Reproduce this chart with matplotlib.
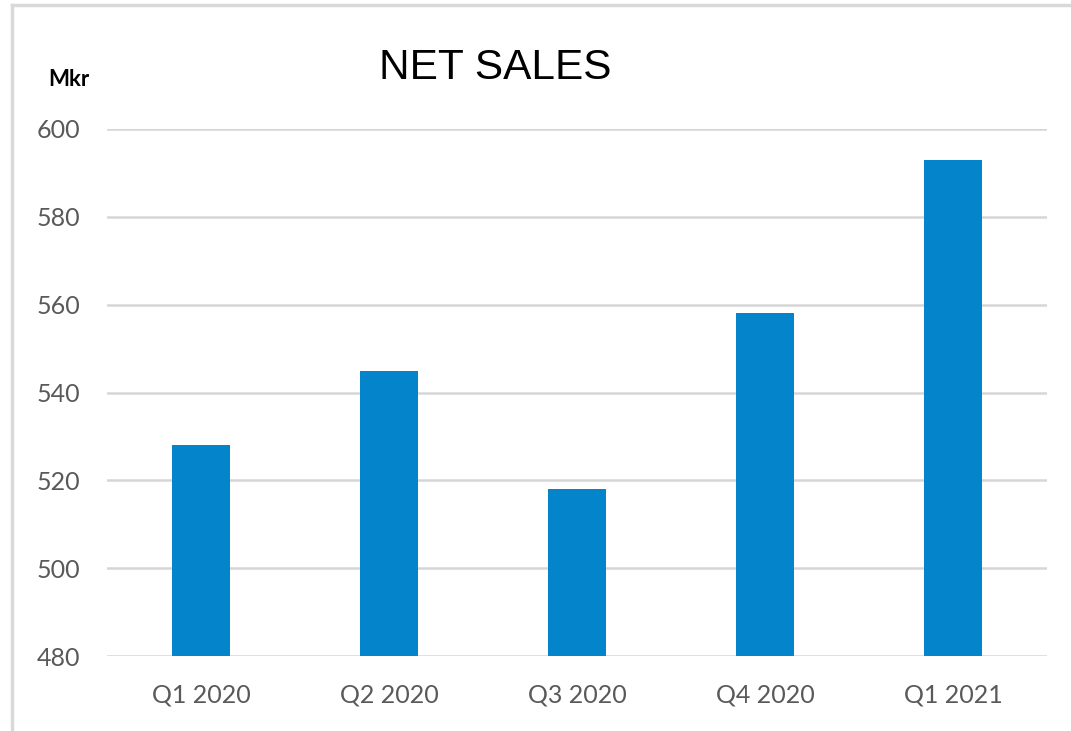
import matplotlib.pyplot as plt
from matplotlib.lines import Line2D

quarters = ['Q1 2020', 'Q2 2020', 'Q3 2020', 'Q4 2020', 'Q1 2021']
net_sales = [528, 545, 518, 558, 593]
yticks = [480, 500, 520, 540, 560, 580, 600]

fig = plt.figure(figsize=(10.71, 7.31), dpi=100)
ax = fig.add_axes([107/1071, 1 - 656/731, 940/1071, 527/731])

x = range(len(quarters))
ax.bar(x, [v - 480 for v in net_sales], bottom=480, width=0.31, color='#0484cb', zorder=3)

ax.set_xlim(-0.5, len(quarters) - 0.5)
ax.set_ylim(480, 600)
ax.set_yticks(yticks)
ax.set_xticks(list(x))
ax.set_xticklabels(quarters)
ax.grid(axis='y', color='#d6d6d6', linewidth=1.8, zorder=0)
for s in ax.spines.values():
    s.set_visible(False)
ax.tick_params(length=0, labelsize=18, labelcolor='#595959')
ax.tick_params(axis='y', pad=19)
ax.tick_params(axis='x', pad=20)
for lab in ax.get_xticklabels() + ax.get_yticklabels():
    lab.set_family('Lato')

fig.text(495/1071, 1 - 68/731, 'NET SALES', ha='center', va='center',
         fontsize=30.5, family='Liberation Sans')
fig.text(48/1071, 1 - 80/731, 'Mkr', ha='left', va='center',
         fontsize=16, fontweight='bold', family='Lato')

# thin frame of the original screenshot (left and top edges)
fig.add_artist(Line2D([12/1071, 12/1071], [0, 1 - 5/731], transform=fig.transFigure,
                      color='#d9d9d9', linewidth=2.5))
fig.add_artist(Line2D([12/1071, 1], [1 - 5/731, 1 - 5/731], transform=fig.transFigure,
                      color='#d9d9d9', linewidth=2.5))

fig.savefig('out.png', dpi=100)
